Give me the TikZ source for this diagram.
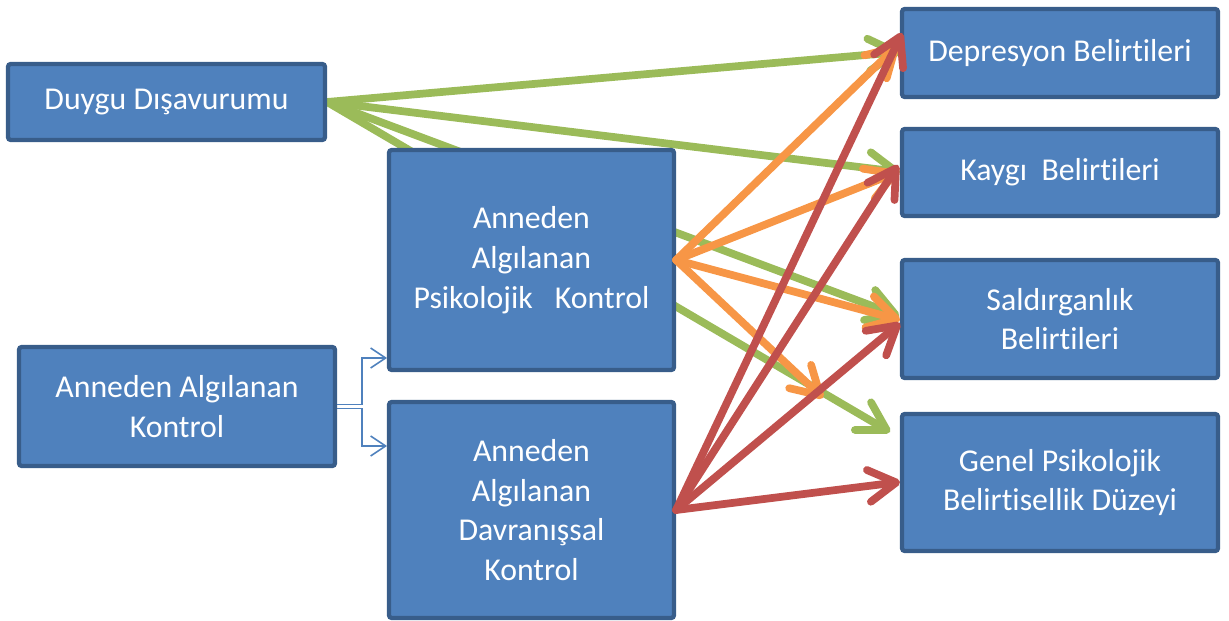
\documentclass[tikz,border=0pt]{standalone}
\usepackage{fontspec}
\setmainfont[Ligatures=NoCommon]{Carlito}
\usetikzlibrary{arrows.meta, backgrounds}

\definecolor{boxfill}{HTML}{4F81BD}
\definecolor{boxedge}{HTML}{385D8A}
\definecolor{lgreen}{HTML}{9BBB59}
\definecolor{lorange}{HTML}{F79646}
\definecolor{lred}{HTML}{C0504D}

\begin{document}
\begin{tikzpicture}[x=0.02cm, y=-0.02cm]
    % --- Canvas ---
    \useasboundingbox (0,0) rectangle (1229,621);

    % --- Styles ---
    \tikzstyle{box_node}=[
        draw=boxedge,
        fill=boxfill,
        line width=2.4pt,
        rounded corners=1.5pt,
        text=white,
        align=center,
        inner sep=0pt,
        font=\fontsize{18.1}{22.6}\selectfont
    ]
    % Effect arrows (thick, open heads)
    \tikzstyle{effect_arrow}=[
        line width=4.4pt,
        line cap=round,
        -{Straight Barb[length=0.55cm, width=0.64cm, round]}
    ]
    \tikzstyle{link_arrow}=[
        draw=boxfill,
        line width=0.9pt,
        -{Straight Barb[length=0.3cm, width=0.4cm]}
    ]

    % --- 1. Predictor boxes ---
    \node[box_node, minimum width=6.34cm, minimum height=1.52cm] (duygu) at (166.5,102) {Duygu Dışavurumu};
    \node[box_node, minimum width=6.32cm, minimum height=2.38cm] (aak) at (177,406.5) {Anneden Algılanan\\Kontrol};
    \node[box_node, minimum width=5.7cm, minimum height=4.4cm] (psik) at (531.5,260) {Anneden\\Algılanan\\Psikolojik\hspace{0.7em}Kontrol};
    \node[box_node, minimum width=5.7cm, minimum height=4.32cm] (davr) at (531.5,510) {Anneden\\Algılanan\\Davranışsal\\Kontrol};

    % --- 2. Outcome boxes ---
    \node[box_node, minimum width=6.32cm, minimum height=1.76cm] (dep) at (1060,53) {Depresyon Belirtileri};
    \node[box_node, minimum width=6.32cm, minimum height=1.74cm] (kay) at (1060,172.5) {Kaygı \ Belirtileri};
    \node[box_node, minimum width=6.32cm, minimum height=2.36cm] (sal) at (1060,319) {Saldırganlık\\Belirtileri};
    \node[box_node, minimum width=6.32cm, minimum height=2.74cm] (gen) at (1060,482.5) {Genel Psikolojik\\Belirtisellik Düzeyi};

    % --- Arrow ends ---
    \coordinate (dep_g) at (900,52);
    \coordinate (kay_g) at (900,172);
    \coordinate (sal_g) at (899,316);
    \coordinate (gen_g) at (890,432);

    \coordinate (dep_o) at (898,45);
    \coordinate (kay_o) at (898,172);
    \coordinate (sal_o) at (900,320);
    \coordinate (gen_o) at (823,398);

    \coordinate (dep_r) at (902,33);
    \coordinate (kay_r) at (898,165);
    \coordinate (sal_r) at (900,323);
    \coordinate (gen_r) at (900,482);

    \coordinate (psik_in) at (387,358);
    \coordinate (davr_in) at (387,446);

    % --- 3. Green arrows (behind the boxes) ---
    \begin{pgfonlayer}{background}
        \foreach \t in {dep_g, kay_g, sal_g, gen_g}
            \draw[effect_arrow, lgreen] (duygu.east) -- (\t);
    \end{pgfonlayer}

    % --- 4. Orange and red arrows ---
    \foreach \t in {dep_o, kay_o, sal_o, gen_o}
        \draw[effect_arrow, lorange] (psik.east) -- (\t);
    \foreach \t in {dep_r, kay_r, sal_r, gen_r}
        \draw[effect_arrow, lred] (davr.east) -- (\t);

    % --- 5. Split of the control box ---
    \draw[link_arrow] ([yshift=1.1pt]aak.east) -- ++(25,0) |- (psik_in);
    \draw[link_arrow] ([yshift=-1.1pt]aak.east) -- ++(25,0) |- (davr_in);

\end{tikzpicture}
\end{document}
